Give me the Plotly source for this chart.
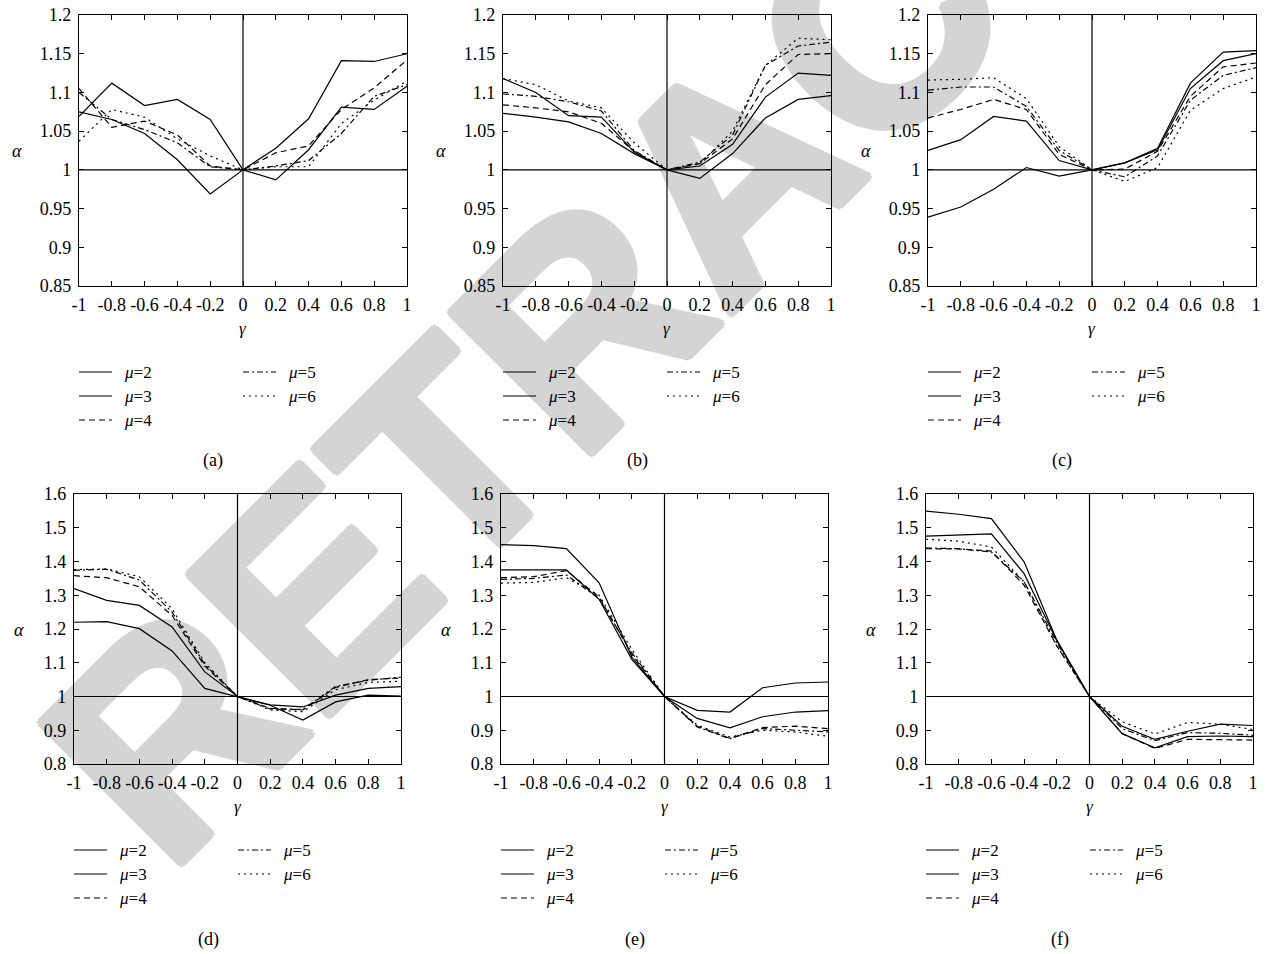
import plotly.graph_objects as go

W, H = 1268, 954

gamma = [-1, -0.8, -0.6, -0.4, -0.2, 0, 0.2, 0.4, 0.6, 0.8, 1]
x_ticks = [-1, -0.8, -0.6, -0.4, -0.2, 0, 0.2, 0.4, 0.6, 0.8, 1]
x_tick_text = ["-1", "-0.8", "-0.6", "-0.4", "-0.2", "0", "0.2", "0.4", "0.6", "0.8", "1"]
y_ticks_top = [0.85, 0.9, 0.95, 1, 1.05, 1.1, 1.15, 1.2]
y_tick_text_top = ["0.85", "0.9", "0.95", "1", "1.05", "1.1", "1.15", "1.2"]
y_ticks_bot = [0.8, 0.9, 1, 1.1, 1.2, 1.3, 1.4, 1.5, 1.6]
y_tick_text_bot = ["0.8", "0.9", "1", "1.1", "1.2", "1.3", "1.4", "1.5", "1.6"]

series_names = ["μ=2", "μ=3", "μ=4", "μ=5", "μ=6"]

# panel (a)
a_mu2 = [1.069, 1.112, 1.083, 1.091, 1.065, 1.0, 1.028, 1.066, 1.141, 1.140, 1.150]
a_mu3 = [1.075, 1.065, 1.047, 1.013, 0.969, 1.0, 0.987, 1.026, 1.081, 1.078, 1.108]
a_mu4 = [1.105, 1.055, 1.063, 1.045, 1.005, 1.0, 1.022, 1.031, 1.078, 1.106, 1.142]
a_mu5 = [1.100, 1.065, 1.052, 1.035, 1.004, 1.0, 1.005, 1.012, 1.047, 1.095, 1.110]
a_mu6 = [1.037, 1.078, 1.068, 1.040, 1.018, 1.0, 1.004, 1.004, 1.060, 1.090, 1.115]
# panel (b)
b_mu2 = [1.073, 1.068, 1.062, 1.047, 1.021, 1.0, 0.989, 1.021, 1.067, 1.091, 1.096]
b_mu3 = [1.118, 1.100, 1.070, 1.068, 1.023, 1.0, 1.005, 1.033, 1.094, 1.125, 1.122]
b_mu4 = [1.084, 1.080, 1.075, 1.060, 1.024, 1.0, 1.008, 1.040, 1.110, 1.149, 1.150]
b_mu5 = [1.098, 1.095, 1.088, 1.076, 1.025, 1.0, 1.010, 1.045, 1.135, 1.160, 1.165]
b_mu6 = [1.118, 1.110, 1.089, 1.080, 1.035, 1.0, 1.008, 1.050, 1.135, 1.170, 1.168]
# panel (c)
c_mu2 = [0.939, 0.952, 0.975, 1.003, 0.992, 1.0, 1.009, 1.028, 1.112, 1.152, 1.154]
c_mu3 = [1.025, 1.039, 1.069, 1.063, 1.012, 1.0, 1.009, 1.026, 1.105, 1.141, 1.150]
c_mu4 = [1.067, 1.078, 1.091, 1.078, 1.020, 1.0, 1.001, 1.024, 1.095, 1.133, 1.138]
c_mu5 = [1.103, 1.107, 1.107, 1.082, 1.025, 1.0, 0.991, 1.018, 1.090, 1.122, 1.132]
c_mu6 = [1.116, 1.117, 1.119, 1.092, 1.030, 1.0, 0.985, 1.003, 1.077, 1.105, 1.120]
# panel (d)
d_mu2 = [1.220, 1.222, 1.201, 1.135, 1.024, 1.0, 0.974, 0.930, 0.984, 1.004, 1.001]
d_mu3 = [1.320, 1.285, 1.270, 1.206, 1.073, 1.0, 0.975, 0.969, 1.004, 1.024, 1.029]
d_mu4 = [1.358, 1.352, 1.325, 1.240, 1.090, 1.0, 0.965, 0.960, 1.027, 1.050, 1.055]
d_mu5 = [1.374, 1.377, 1.345, 1.250, 1.095, 1.0, 0.963, 0.962, 1.030, 1.048, 1.057]
d_mu6 = [1.376, 1.378, 1.355, 1.260, 1.100, 1.0, 0.960, 0.955, 1.020, 1.042, 1.045]
# panel (e)
e_mu2 = [1.450, 1.447, 1.438, 1.337, 1.117, 1.0, 0.959, 0.954, 1.026, 1.040, 1.043]
e_mu3 = [1.375, 1.375, 1.375, 1.288, 1.110, 1.0, 0.935, 0.907, 0.940, 0.954, 0.958]
e_mu4 = [1.352, 1.355, 1.373, 1.295, 1.125, 1.0, 0.912, 0.876, 0.908, 0.912, 0.905]
e_mu5 = [1.347, 1.350, 1.360, 1.290, 1.130, 1.0, 0.910, 0.875, 0.905, 0.900, 0.895]
e_mu6 = [1.336, 1.338, 1.352, 1.300, 1.140, 1.0, 0.915, 0.880, 0.900, 0.895, 0.882]
# panel (f)
f_mu2 = [1.549, 1.540, 1.527, 1.399, 1.167, 1.0, 0.912, 0.873, 0.897, 0.918, 0.914]
f_mu3 = [1.475, 1.478, 1.482, 1.364, 1.165, 1.0, 0.890, 0.848, 0.881, 0.883, 0.881]
f_mu4 = [1.438, 1.437, 1.431, 1.330, 1.150, 1.0, 0.890, 0.846, 0.873, 0.873, 0.871]
f_mu5 = [1.440, 1.438, 1.428, 1.340, 1.160, 1.0, 0.905, 0.869, 0.893, 0.891, 0.885]
f_mu6 = [1.466, 1.460, 1.443, 1.340, 1.150, 1.0, 0.925, 0.889, 0.923, 0.918, 0.902]

panels = [
    ("(a)", [a_mu2, a_mu3, a_mu4, a_mu5, a_mu6]),
    ("(b)", [b_mu2, b_mu3, b_mu4, b_mu5, b_mu6]),
    ("(c)", [c_mu2, c_mu3, c_mu4, c_mu5, c_mu6]),
    ("(d)", [d_mu2, d_mu3, d_mu4, d_mu5, d_mu6]),
    ("(e)", [e_mu2, e_mu3, e_mu4, e_mu5, e_mu6]),
    ("(f)", [f_mu2, f_mu3, f_mu4, f_mu5, f_mu6]),
]

dashes = ["solid", "solid", "6px,4px", "6px,3px,2px,3px", "2px,4px"]

# plot-area boxes in pixels: left, right, top, bottom
boxes = [
    (79, 407, 15, 286), (503, 831, 15, 286), (928, 1256, 15, 286),
    (74, 401, 494, 764), (501, 828, 494, 764), (926, 1253, 494, 764),
]

SERIF = "Liberation Serif"
fig = go.Figure()
shapes = []
annotations = []

def px(x):
    return x / W

def py(y):
    return 1 - y / H

def note(text, x, y, size, xanchor="center"):
    annotations.append(dict(text=text, x=px(x), y=py(y), xref="paper", yref="paper",
                            xanchor=xanchor, yanchor="middle", showarrow=False,
                            font=dict(family=SERIF, size=size, color="black")))

for i, ((cap, ys), (l, r, t, b)) in enumerate(zip(panels, boxes)):
    n = i + 1
    xa = "x" if n == 1 else f"x{n}"
    ya = "y" if n == 1 else f"y{n}"
    top = i < 3
    for name, vals, dsh in zip(series_names, ys, dashes):
        fig.add_trace(go.Scatter(x=gamma, y=vals, mode="lines", name=name,
                                 line=dict(color="black", width=1.2, dash=dsh),
                                 xaxis=xa, yaxis=ya, showlegend=False))
    yr = [0.85, 1.2] if top else [0.8, 1.6]
    axis_common = dict(showgrid=False, zeroline=False, showline=True, linecolor="black",
                       linewidth=1.2, mirror="ticks", ticks="inside", ticklen=5,
                       tickcolor="black", automargin=False,
                       tickfont=dict(family=SERIF, size=18, color="black"))
    fig.layout[f"xaxis{'' if n == 1 else n}"] = dict(
        domain=[px(l), px(r)], anchor=ya, range=[-1, 1], ticklabelstandoff=2,
        tickvals=x_ticks, ticktext=x_tick_text, **axis_common)
    fig.layout[f"yaxis{'' if n == 1 else n}"] = dict(
        domain=[py(b), py(t)], anchor=xa, range=yr, ticklabelstandoff=3,
        tickvals=y_ticks_top if top else y_ticks_bot,
        ticktext=y_tick_text_top if top else y_tick_text_bot, **axis_common)
    # reference lines at alpha=1 and gamma=0
    shapes.append(dict(type="line", xref=xa, yref="paper", x0=0, x1=0, y0=py(b), y1=py(t),
                       line=dict(color="black", width=1.2)))
    shapes.append(dict(type="line", xref="paper", yref=ya, x0=px(l), x1=px(r), y0=1, y1=1,
                       line=dict(color="black", width=1.2)))
    # axis titles
    cx = l + (r - l) / 2
    note("<i>γ</i>", cx, b + 42, 17)
    note("<i>α</i>", l - (62 if top else 55), t + 136, 18)
    # legend block
    ly0 = b + 86
    for k, (name, dsh) in enumerate(zip(series_names, dashes)):
        col = 0 if k < 3 else 1
        row = k if k < 3 else k - 3
        lx0 = l + (0 if col == 0 else 164)
        yy = ly0 + row * 24
        shapes.append(dict(type="line", xref="paper", yref="paper", x0=px(lx0), x1=px(lx0 + 33),
                           y0=py(yy), y1=py(yy), line=dict(color="black", width=1.1, dash=dsh)))
        note("<i>μ</i>=" + name.split("=")[1], lx0 + 43, yy, 17, xanchor="left")
    note(cap, l + 134, b + 175, 18)

# watermark behind everything
WM = "#d4d4d4"
shapes.insert(0, dict(type="rect", xref="paper", yref="paper", layer="below",
                      x0=px(709), x1=px(710), y0=py(154), y1=py(155),
                      line=dict(width=0), fillcolor="rgba(0,0,0,0)",
                      label=dict(text="RETRACTED", textangle=-45, textposition="middle center",
                                 font=dict(family="Liberation Sans", size=290, color=WM,
                                           weight="bold",
                                           shadow=f"4px 0 0 {WM}, -4px 0 0 {WM}, 0 4px 0 {WM}, 0 -4px 0 {WM}, 3px 3px 0 {WM}, -3px -3px 0 {WM}, 3px -3px 0 {WM}, -3px 3px 0 {WM}"))))

fig.update_layout(width=W, height=H, margin=dict(l=0, r=0, t=0, b=0),
                  paper_bgcolor="white", plot_bgcolor="rgba(0,0,0,0)",
                  shapes=shapes, annotations=annotations, showlegend=False)

fig.write_html("out.html", config={"displayModeBar": False},
               post_script="document.body.style.margin='0';")
